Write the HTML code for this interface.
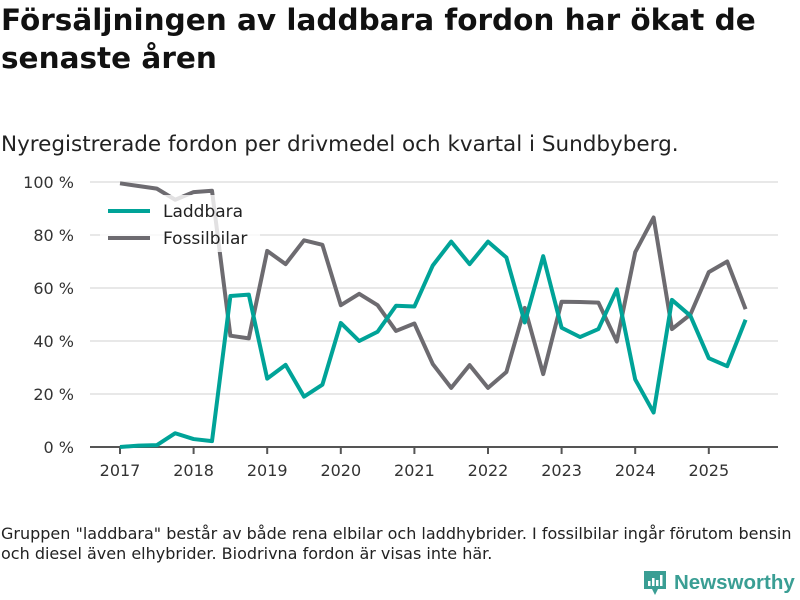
<!DOCTYPE html>
<html><head><meta charset="utf-8"><style>
body{margin:0;background:#fff;width:800px;height:600px;overflow:hidden;font-family:"DejaVu Sans","Liberation Sans",sans-serif;position:relative}
.t{position:absolute;left:1px;top:1px;font-size:29.5px;font-weight:bold;line-height:38px;color:#111;width:770px}
.s{position:absolute;left:1px;top:132px;font-size:21.5px;color:#222;white-space:nowrap}
.f{position:absolute;left:1px;top:524px;font-size:16px;line-height:20px;color:#222;white-space:nowrap}
</style></head><body>
<div class="t">Försäljningen av laddbara fordon har ökat de senaste åren</div>
<div class="s">Nyregistrerade fordon per drivmedel och kvartal i Sundbyberg.</div>
<svg id="c" width="800" height="600" style="position:absolute;left:0;top:0"></svg>
<div class="f">Gruppen "laddbara" består av både rena elbilar och laddhybrider. I fossilbilar ingår förutom bensin<br>och diesel även elhybrider. Biodrivna fordon är visas inte här.</div>
<div style="position:absolute;left:643px;top:569px;display:flex;align-items:center">
<svg width="24" height="28"><path d="M1 2h22v18h-8l-3 6-3-6H1z" fill="#3a9e94"/><rect x="5" y="12" width="2.5" height="5" fill="#fff"/><rect x="9" y="9" width="2.5" height="8" fill="#fff"/><rect x="13" y="11" width="2.5" height="6" fill="#fff"/><rect x="17" y="6" width="2.5" height="11" fill="#fff"/></svg>
<span style="margin-left:7px;font-family:'Liberation Sans',sans-serif;font-size:20.5px;font-weight:bold;color:#3a9e94">Newsworthy</span></div>
<script>
const years=[2017,2018,2019,2020,2021,2022,2023,2024,2025];
const yTicks=[0,20,40,60,80,100];
const laddbara=[0,0.5,0.7,5.2,3,2.2,57,57.5,25.8,31,19,23.5,46.8,40,43.5,53.3,53,68.5,77.5,69,77.5,71.5,47,72,45,41.5,44.5,59.5,25.5,13,55.5,49.5,33.5,30.5,48];
const fossil=[99.5,98.5,97.5,93.3,96.2,96.7,42,41,74,69,78,76.3,53.5,57.8,53.5,43.8,46.6,31.3,22.3,30.9,22.3,28.3,52.5,27.5,54.8,54.7,54.5,39.8,73.5,86.6,44.5,50,66,70,52];
const svg=document.getElementById('c');const NS='http://www.w3.org/2000/svg';
const x=t=>120+(t-2017)*73.6; const y=v=>447-v*2.65;
function mk(tag,a){const e=document.createElementNS(NS,tag);for(const k in a)e.setAttribute(k,a[k]);svg.appendChild(e);return e;}
yTicks.forEach(v=>{const g=mk('line',{x1:90,x2:778,y1:y(v),y2:y(v),stroke:v?'#e0e0e0':'#555','stroke-width':v?1.5:2});


const t=mk('text',{x:74,y:y(v)+6,'text-anchor':'end','font-size':16,fill:'#333'});t.textContent=v+' %';

});
years.forEach(yr=>{const l=mk('line',{x1:x(yr),x2:x(yr),y1:447,y2:454,stroke:'#555','stroke-width':2});


const t=mk('text',{x:x(yr),y:476,'text-anchor':'middle','font-size':16,fill:'#333'});t.textContent=yr;

});
function line(d,col,name){const p=mk('polyline',{points:d.map((v,i)=>x(2017+i/4)+','+y(v)).join(' '),fill:'none',stroke:col,'stroke-width':4,'stroke-linejoin':'round'});

}
line(fossil,'#6d6b70','fossilbilar-line');
line(laddbara,'#00a398','laddbara-line');
const bg=mk('rect',{x:100,y:195,width:160,height:57,fill:'#fff','fill-opacity':0.8});


[['Laddbara','#00a398',211],['Fossilbilar','#6d6b70',238]].forEach(([n,c,yy])=>{
const l=mk('line',{x1:108,x2:150,y1:yy,y2:yy,stroke:c,'stroke-width':4});


const t=mk('text',{x:163,y:yy+6,'font-size':17,fill:'#222'});t.textContent=n;

});
</script>
</body></html>
